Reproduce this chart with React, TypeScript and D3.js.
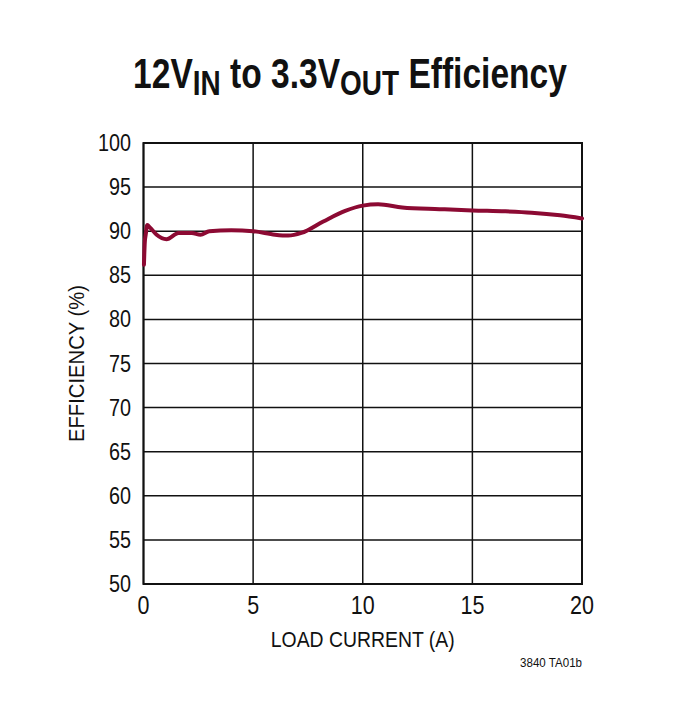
import { useEffect, useRef } from "react";
import * as d3 from "d3";

const loadCurrent = [
  0.02, 0.06, 0.1, 0.17, 0.3, 0.6, 1.05, 1.6, 2.2, 2.6, 3.0, 4.0, 5.0, 6.0,
  6.6, 7.2, 8.2, 9.2, 10.0, 10.7, 11.8, 13.5, 15, 16.5, 17.7, 19, 20,
];
const efficiency = [
  86.2, 88.8, 89.6, 90.7, 90.4, 89.6, 89.1, 89.8, 89.8, 89.6, 90.0, 90.1,
  90.0, 89.6, 89.5, 89.8, 91.1, 92.3, 92.9, 93.05, 92.7, 92.5, 92.35, 92.25,
  92.1, 91.8, 91.45,
];
const xTicks = [0, 5, 10, 15, 20];
const yTicks = [50, 55, 60, 65, 70, 75, 80, 85, 90, 95, 100];

const FONT = "'Liberation Sans', Arial, sans-serif";
const SQUEEZE = 0.86; // fake a condensed face

const App = () => {
  const ref = useRef<SVGSVGElement>(null);

  useEffect(() => {
    const width = 677,
      height = 712,
      left = 143.5,
      right = 582,
      top = 143,
      bottom = 584;

    const svg = d3.select(ref.current);
    svg.selectAll("*").remove();

    const x = d3.scaleLinear().domain([0, 20]).range([left, right]);
    const y = d3.scaleLinear().domain([50, 100]).range([bottom, top]);

    svg.attr("width", width).attr("height", height);
    svg.append("rect").attr("width", width).attr("height", height).attr("fill", "#fff");

    // squeezed text placed at (px, py)
    const label = (
      parent: d3.Selection<any, unknown, null, undefined>,
      text: string,
      px: number,
      py: number,
      size: number,
      anchor: string,
      fit?: number,
      rotate = 0
    ) => {
      const t = parent
        .append("text")
        .attr("text-anchor", anchor)
        .style("font-family", FONT)
        .style("font-size", `${size}px`)
        .attr("fill", "#111")
        .text(text);
      let sx = SQUEEZE;
      if (fit) sx = fit / (t.node() as SVGTextElement).getComputedTextLength();
      t.attr("transform", `translate(${px},${py}) rotate(${rotate}) scale(${sx},1)`);
      return t;
    };

    // title
    const title = svg
      .append("text")
      .attr("text-anchor", "middle")
      .style("font-family", FONT)
      .style("font-weight", "bold")
      .style("font-size", "42px")
      .attr("fill", "#111");
    title.append("tspan").text("12V");
    title.append("tspan").attr("dy", 7).style("font-size", "35px").text("IN");
    title.append("tspan").attr("dy", -7).text(" to 3.3V");
    title.append("tspan").attr("dy", 7).style("font-size", "35px").text("OUT");
    title.append("tspan").attr("dy", -7).text(" Efficiency");
    const tw = (title.node() as SVGTextElement).getComputedTextLength();
    title.attr("transform", `translate(350,88) scale(${434 / tw},1)`);

    // grid
    const grid = svg.append("g").attr("class", "grid").attr("stroke", "#111").attr("stroke-width", 1.5);
    grid
      .selectAll("line.h")
      .data(yTicks)
      .enter()
      .append("line")
      .attr("class", "h")
      .attr("x1", left)
      .attr("x2", right)
      .attr("y1", (d) => y(d))
      .attr("y2", (d) => y(d));
    grid
      .selectAll("line.v")
      .data(xTicks)
      .enter()
      .append("line")
      .attr("class", "v")
      .attr("x1", (d) => x(d))
      .attr("x2", (d) => x(d))
      .attr("y1", top)
      .attr("y2", bottom);
    svg
      .append("rect")
      .attr("x", left)
      .attr("y", top)
      .attr("width", right - left)
      .attr("height", bottom - top)
      .attr("fill", "none")
      .attr("stroke", "#111")
      .attr("stroke-width", 2);

    // tick labels
    const ticksG = svg.append("g").attr("class", "ticks");
    yTicks.forEach((d) => label(ticksG, String(d), 131, y(d) + 8, 23, "end"));
    xTicks.forEach((d) => label(ticksG, String(d), x(d), 614, 25, "middle"));

    // axis titles
    label(svg, "LOAD CURRENT (A)", (left + right) / 2, 647, 22, "middle", 184);
    label(svg, "EFFICIENCY (%)", 84, (top + bottom) / 2, 22, "middle", 157, -90);
    label(svg, "3840 TA01b", 582, 667, 13, "end", 62);

    // curve
    const points: [number, number][] = loadCurrent.map((d, i) => [d, efficiency[i]]);
    const line = d3
      .line<[number, number]>()
      .x((d) => x(d[0]))
      .y((d) => y(d[1]))
      .curve(d3.curveMonotoneX);
    svg
      .append("path")
      .attr("d", line(points) as string)
      .attr("fill", "none")
      .attr("stroke", "#8c0a33")
      .attr("stroke-width", 4)
      .attr("stroke-linejoin", "round")
      .attr("stroke-linecap", "round");
  }, []);

  return <svg ref={ref} style={{ position: "absolute", left: 0, top: 0 }} />;
};

export default App;
